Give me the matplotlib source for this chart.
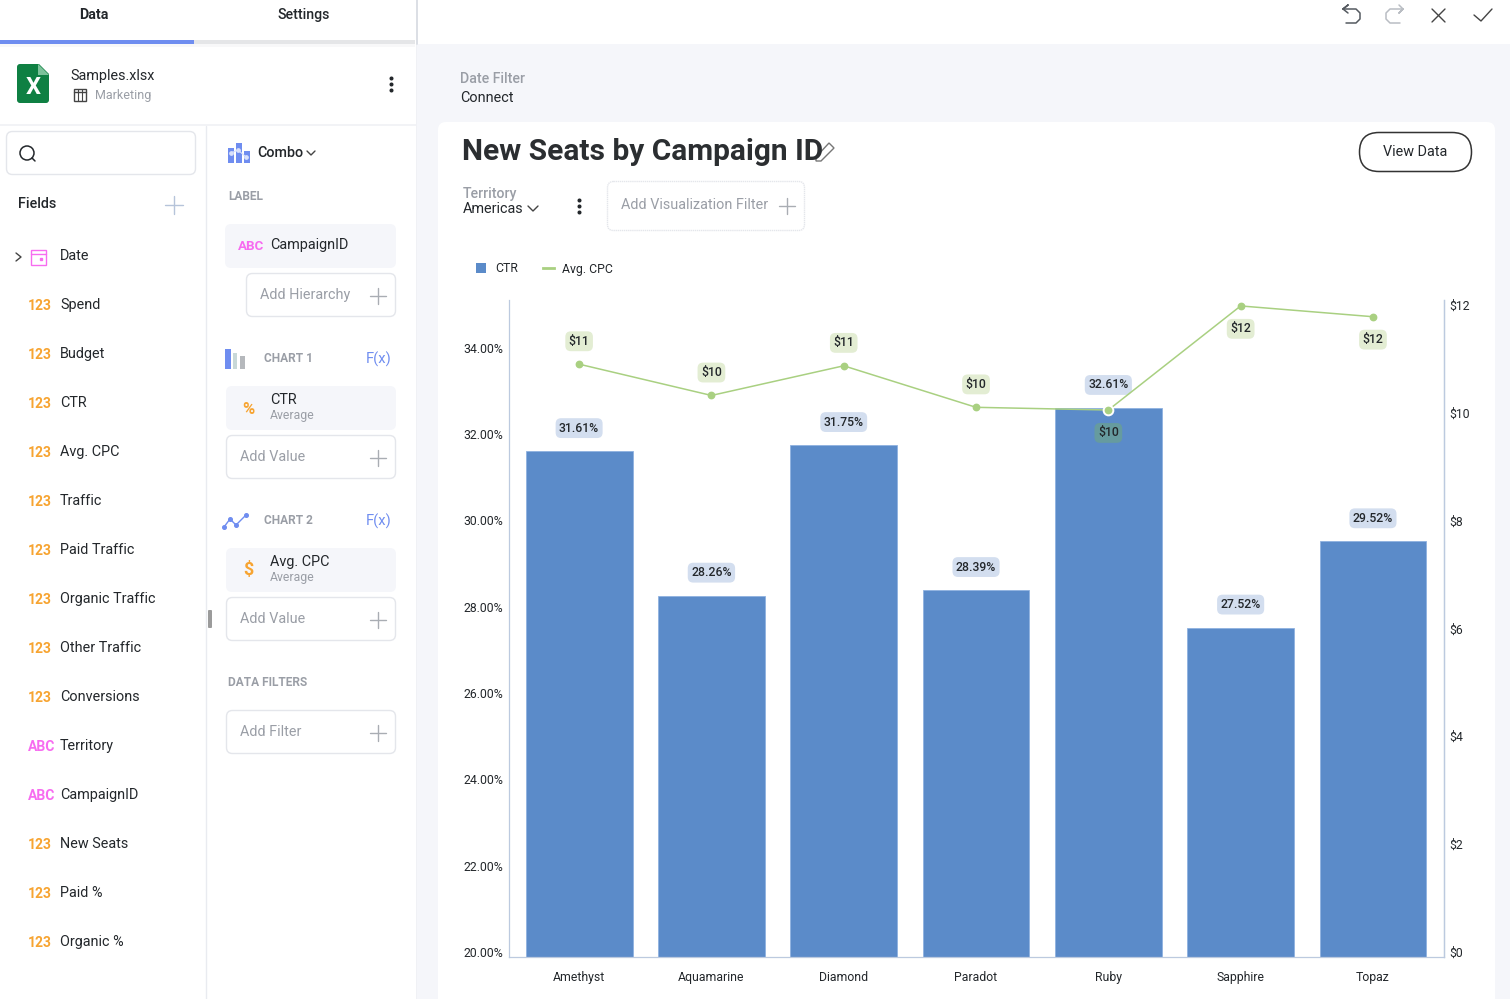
import matplotlib
matplotlib.use("Agg")
import matplotlib.pyplot as plt
import numpy as np
from matplotlib.lines import Line2D
from matplotlib.patches import Circle, FancyBboxPatch, Patch, Polygon, Rectangle

plt.rcParams["font.family"] = ["Roboto", "DejaVu Sans"]

# chart data
campaigns = ["Amethyst", "Aquamarine", "Diamond", "Paradot", "Ruby", "Sapphire", "Topaz"]
ctr = [31.61, 28.26, 31.75, 28.39, 32.61, 27.52, 29.52]
avg_cpc = [10.9, 10.32, 10.87, 10.1, 10.05, 11.98, 11.78]
cpc_labels = ["$11", "$10", "$11", "$10", "$10", "$12", "$12"]
cpc_label_below = [False, False, False, False, True, True, True]
ctr_ticks = [20, 22, 24, 26, 28, 30, 32, 34]
cpc_ticks = [0, 2, 4, 6, 8, 10, 12]

# sidebar data
field_names = ["Spend", "Budget", "CTR", "Avg. CPC", "Traffic", "Paid Traffic", "Organic Traffic",
               "Other Traffic", "Conversions", "Territory", "CampaignID", "New Seats", "Paid %", "Organic %"]
field_kinds = ["123", "123", "123", "123", "123", "123", "123", "123", "123", "ABC", "ABC", "123", "123", "123"]

BAR = "#5b8bc9"
GREEN = "#a9d081"
DARK = "#23272b"
GREY = "#9a9ea6"
BORDER = "#e4e6eb"
PANEL = "#f5f6fa"
ORANGE = "#f7a431"
PINK = "#f76cf0"
BLUE = "#6f8df0"

fig = plt.figure(figsize=(15.10, 9.99), dpi=100, facecolor="white")

# whole-figure layer in pixels for the app chrome
ui = fig.add_axes([0, 0, 1, 1], zorder=0)
ui.set_xlim(0, 1510)
ui.set_ylim(999, 0)
ui.axis("off")


def box(x, y, w, h, fc="white", ec="none", r=6, lw=1.0, ls="-"):
    ui.add_patch(FancyBboxPatch((x, y), w, h, boxstyle=f"round,pad=0,rounding_size={r}",
                                fc=fc, ec=ec, lw=lw, ls=ls))


def rect(x, y, w, h, fc):
    ui.add_patch(Rectangle((x, y), w, h, fc=fc, ec="none"))


def line(xs, ys, c=DARK, lw=1.0):
    ui.plot(xs, ys, color=c, lw=lw, solid_capstyle="round", solid_joinstyle="round")


def label(x, y, s, size=10.4, c=DARK, weight="normal", ha="left"):
    ui.text(x, y, s, fontsize=size, color=c, fontweight=weight, ha=ha, va="center")


def plus(x, y, r=8, c="#a9adb3"):
    line([x - r, x + r], [y, y], c, 1.0)
    line([x, x], [y - r, y + r], c, 1.0)


def dots(x, y, c=DARK):
    ui.plot([x, x, x], [y - 6, y, y + 6], "o", color=c, ms=1.9)


def add_slot(x, y, w, h, s, plus_x=None):
    box(x, y, w, h, ec=BORDER)
    label(x + 14, y + h / 2, s, 10.4, GREY)
    plus(plus_x if plus_x else x + w - 18, y + h / 2 + 1)


# backgrounds
rect(417, 44, 1093, 955, PANEL)
ui.add_patch(FancyBboxPatch((438, 122), 1057, 900, boxstyle="round,pad=0,rounding_size=8", fc="white", ec="none"))
rect(0, 40, 415, 4, "#e5e6e8")
rect(0, 40, 194, 4, BLUE)
rect(0, 44, 415, 3, "#f8f8f9")
line([417, 417], [0, 44], "#d5d9e0", 1.2)
line([0, 416], [125, 125], "#f0f1f5", 1.2)
line([206, 206], [126, 999], "#e9ebf0", 1.0)
rect(416, 44, 1, 955, "#f0f1f5")
box(208, 610, 4, 18, fc="#9b9b9b", r=1)

# tabs
label(94, 15, "Data", 10.2, DARK, "bold", "center")
label(304, 15, "Settings", 10.2, DARK, "medium", "center")

# top right actions
line([1343, 1348, 1343, 1348], [9, 5, 9, 13], "#555a60", 1.1)
line([1343, 1356, 1360, 1360, 1356, 1346], [9, 9, 13, 19, 23, 23], "#555a60", 1.1)
line([1399, 1403, 1399, 1403], [5, 9, 13, 9], "#b9bdc3", 1.1)
line([1403, 1390, 1386, 1386, 1390, 1400], [9, 9, 13, 19, 23, 23], "#b9bdc3", 1.1)
line([1432, 1445], [9, 22], "#444", 1.0)
line([1432, 1445], [22, 9], "#444", 1.0)
line([1474, 1481, 1492], [15, 21, 9], "#444", 1.0)

# file header
box(17, 64, 32, 39, fc="#0f8043", r=3)
ui.add_patch(Polygon([[38, 63], [50, 63], [50, 75]], fc="white", ec="none"))
ui.add_patch(Polygon([[38, 64], [49, 75], [38, 75]], fc="#7cc29a", ec="none"))
label(33, 87, "X", 17, "white", "bold", "center")
label(70, 76, "Samples.xlsx", 10.4)
ui.add_patch(Rectangle((74, 89), 12, 12, fc="none", ec="#444", lw=1))
line([74, 86], [92, 92], "#444", 1.0)
line([78, 78], [89, 101], "#444", 0.8)
line([82, 82], [89, 101], "#444", 0.8)
label(95, 95, "Marketing", 9.0, GREY)
dots(391, 84)

# search and fields
box(6.5, 131.5, 189, 43, ec=BORDER)
ui.add_patch(Circle((27, 153), 7, fc="none", ec=DARK, lw=1.1))
line([32, 35], [158, 161], DARK, 1.1)
label(18, 204, "Fields", 10.4, DARK, "medium")
plus(174, 205, 9, "#b6c4da")

line([16, 21, 16], [253, 257, 261], "#444", 1.0)
ui.add_patch(Rectangle((31, 250), 15, 15, fc="none", ec=PINK, lw=1.0))
line([31, 46], [254, 254], PINK, 1.0)
ui.plot([41], [259], "s", color=PINK, ms=1.5)
label(60, 256, "Date", 10.4)

field_y = 305
for name, kind in zip(field_names, field_kinds):
    label(28, field_y + 1, kind, 10.0, ORANGE if kind == "123" else PINK, "bold")
    label(60, field_y, name, 10.4)
    field_y += 49

# combo section
for bx, by, bh in [(228, 148, 15), (236, 143, 20), (244, 151, 12)]:
    rect(bx, by, 5.5, bh, BLUE)
ui.plot([231, 238, 246], [153, 150, 157], "-o", color="#d9e1fb", ms=2.4, lw=0.8)
label(257, 153, "Combo", 10.4, DARK, "medium")
line([307, 311, 315], [151, 155, 151], "#444", 1.0)
label(228, 197, "LABEL", 8.6, GREY, "bold")

box(225, 224, 171, 44, fc=PANEL)
label(238, 246, "ABC", 9.6, PINK, "bold")
label(270, 245, "CampaignID", 10.4)
add_slot(246.5, 273.5, 149, 43, "Add Hierarchy", 378)

rect(225, 349, 6, 20, BLUE)
rect(233, 353, 4, 16, "#c8d8d8")
rect(240, 356, 5, 13, "#b5b8bc")
label(264, 359, "CHART 1", 8.6, GREY, "bold")
label(379, 359, "F(x)", 10.6, BLUE, "normal", "center")
box(226, 386, 170, 44, fc=PANEL)
label(248, 409, "%", 12, ORANGE, "bold", "center")
label(270, 400, "CTR", 10.4)
label(270, 416, "Average", 8.8, GREY)
add_slot(226.5, 435.5, 169, 43, "Add Value", 378)

ui.plot([224, 230, 236, 246], [527, 519, 525, 515], "-o", color=BLUE, ms=2.6, lw=1.0)
label(264, 521, "CHART 2", 8.6, GREY, "bold")
label(379, 521, "F(x)", 10.6, BLUE, "normal", "center")
box(226, 548, 170, 44, fc=PANEL)
label(248, 570, "$", 13, ORANGE, "bold", "center")
label(270, 562, "Avg. CPC", 10.4)
label(270, 578, "Average", 8.8, GREY)
add_slot(226.5, 597.5, 169, 43, "Add Value", 378)

label(228, 683, "DATA FILTERS", 8.6, GREY, "bold")
add_slot(226.5, 710.5, 169, 43, "Add Filter", 378)

# dashboard header
label(460, 79, "Date Filter", 10.2, GREY, "medium")
label(460, 98, "Connect", 10.4)
label(462, 152, "New Seats by Campaign ID", 21.5, "#2b2e31", "bold")
ui.add_patch(Polygon([[816, 157], [829, 143], [834, 148], [821, 161], [816, 161]], fc="none", ec="#777", lw=1.0))
box(1359.5, 132.5, 112, 39, ec="#333", r=19.5, lw=1.1)
label(1415, 152, "View Data", 10.4, DARK, "normal", "center")
label(463, 194, "Territory", 10.2, GREY, "medium")
label(463, 209, "Americas", 10.4)
line([528, 533, 538], [206, 211, 206], "#444", 1.0)
dots(579, 206)
box(607.5, 181.5, 197, 49, ec=BORDER, ls=(0, (1, 0.5)))
label(621, 205, "Add Visualization Filter", 10.4, GREY)
plus(787, 206)

# the combo chart
ax = fig.add_axes([509 / 1510, 42 / 999, 935 / 1510, 657 / 999], zorder=2)
ax.patch.set_alpha(0)
x = np.arange(len(campaigns))
ax.bar(x, ctr, width=0.808, color=BAR, edgecolor="#8fb2e0", linewidth=0.6)
ax.set_xlim(-0.53, 6.537)
ax.set_ylim(19.884, 35.11)
ax.set_xticks(x, campaigns)
ax.set_yticks(ctr_ticks, [f"{t:.2f}%" for t in ctr_ticks])
ax.tick_params(axis="both", length=0, labelsize=8.8, labelcolor=DARK)
ax.tick_params(axis="x", pad=10)
ax.tick_params(axis="y", pad=4)
for side in ["left", "right", "bottom"]:
    ax.spines[side].set_color("#bccadf")
    ax.spines[side].set_linewidth(0.9)
ax.spines["top"].set_visible(False)

ax2 = ax.twinx()
ax2.set_ylim(-0.093, 12.09)
ax2.set_yticks(cpc_ticks, [f"${t}" for t in cpc_ticks])
ax2.tick_params(axis="y", length=0, labelsize=8.8, labelcolor=DARK, pad=4)
ax2.spines["top"].set_visible(False)
ax2.spines["left"].set_visible(False)
ax2.spines["bottom"].set_visible(False)
ax2.spines["right"].set_color("#bccadf")
ax2.spines["right"].set_linewidth(0.9)
ax2.plot(x, avg_cpc, color=GREEN, lw=1.1, marker="o", ms=4.6, zorder=3)
ax2.plot(x[4], avg_cpc[4], marker="o", ms=7, color=GREEN, mec="white", mew=1.4, zorder=4)

pill = "round,pad=0.28,rounding_size=0.45"
for xi, val in zip(x, ctr):
    ax2.annotate(f"{val:.2f}%", (xi, val * 0), xycoords=ax2.get_xaxis_transform(), alpha=0) if False else None
    ax.annotate(f"{val:.2f}%", (xi, val), xytext=(0, 16.5), textcoords="offset points", ha="center", va="center",
                fontsize=8.8, fontweight="medium", color=DARK, zorder=6, annotation_clip=False,
                bbox=dict(boxstyle=pill, fc="#d3deef", ec="none"))
for i, (xi, val, text, below) in enumerate(zip(x, avg_cpc, cpc_labels, cpc_label_below)):
    over_bar = i == 4
    ax2.annotate(text, (xi, val), xytext=(0, -16.5 if below else 16.5), textcoords="offset points",
                 ha="center", va="center", fontsize=8.8, fontweight="medium", color=DARK, zorder=6,
                 bbox=dict(boxstyle=pill, fc="#669b9f" if over_bar else "#e3edd3", ec="none"))

handles = [Patch(fc=BAR, ec="none"), Line2D([], [], color=GREEN, lw=2)]
fig.legend(handles, ["CTR", "Avg. CPC"], loc="center left", bbox_to_anchor=(465 / 1510, 1 - 269 / 999), ncol=2,
           frameon=False, fontsize=8.8, handlelength=0.85, handleheight=0.85, handletextpad=0.7, columnspacing=2.1,
           labelcolor=DARK)

fig.savefig("out.png", dpi=100)
